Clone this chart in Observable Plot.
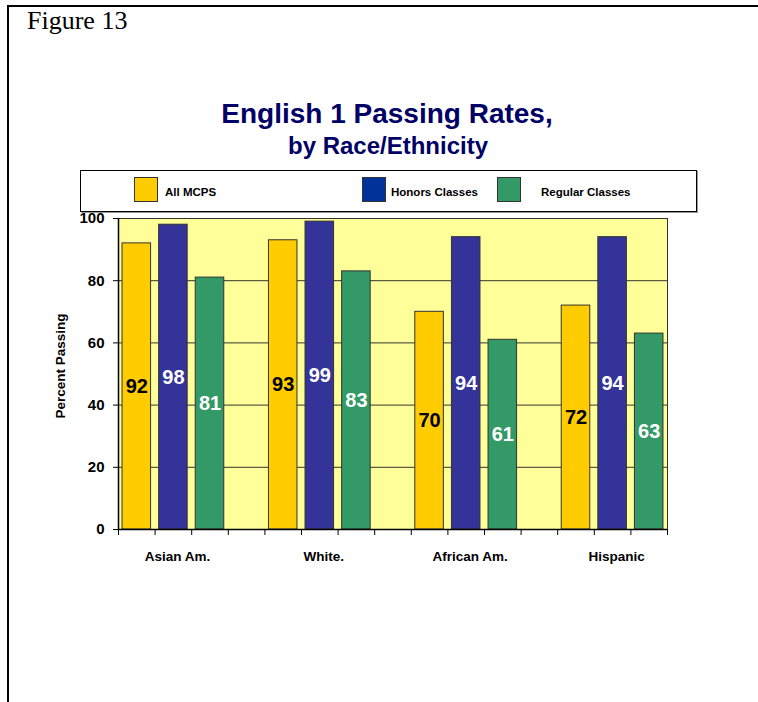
<!DOCTYPE html>
<html>
<head>
<meta charset="utf-8">
<script src="https://cdn.jsdelivr.net/npm/d3@7"></script>
<script src="https://cdn.jsdelivr.net/npm/@observablehq/plot@0.6"></script>
<style>
  html, body { margin: 0; padding: 0; background: #fff; }
  #page { position: relative; width: 758px; height: 702px; overflow: hidden; font-family: "Liberation Sans", Arial, sans-serif; }
  .abs { position: absolute; white-space: nowrap; }
  #figlabel { left: 27px; top: 8px; font-family: "Liberation Serif", "Times New Roman", serif; font-size: 26px; line-height: 26px; color: #000; }
  #title { left: 0; width: 774px; text-align: center; top: 100px; font-size: 28px; line-height: 28px; font-weight: bold; color: #000066; }
  #subtitle { left: 0; width: 776px; text-align: center; top: 134px; font-size: 24px; line-height: 24px; font-weight: bold; color: #000066; }
  #legend { left: 80px; top: 170px; width: 615px; height: 40px; border: 1px solid #000; box-shadow: 1px 1px 0 #999; }
  .sw { position: absolute; width: 22px; height: 23px; border: 1px solid #333; top: 6px; }
  .lt { position: absolute; top: 16px; font-size: 11.5px; line-height: 11.5px; font-weight: bold; color: #000; }
  #chart { left: 0; top: 200px; }
</style>
</head>
<body>
<div id="page">
  <div class="abs" style="left:8px; top:5px; width:750px; height:2px; background:#000;"></div>
  <div class="abs" style="left:7px; top:5px; width:2px; height:697px; background:#000;"></div>
  <div class="abs" id="figlabel">Figure 13</div>
  <div class="abs" id="title">English 1 Passing Rates,</div>
  <div class="abs" id="subtitle">by Race/Ethnicity</div>
  <div class="abs" id="legend"></div>
  <div class="abs" id="chart"></div>
</div>
<script>
const groups = ["Asian Am.", "White.", "African Am.", "Hispanic"];
const series = ["All MCPS", "Honors Classes", "Regular Classes"];
const allMCPS = [92, 93, 70, 72];
const honors = [98, 99, 94, 94];
const regular = [81, 83, 61, 63];
const yTicks = [0, 20, 40, 60, 80, 100];
const gridTicks = [20, 40, 60, 80];
const barColors = ["#FFCC00", "#333399", "#339966"];
const legendColors = ["#FFCC00", "#003399", "#339966"];
const labelColors = ["#000000", "#ffffff", "#ffffff"];

const seriesValues = [allMCPS, honors, regular];
const rows = groups.flatMap((g, i) =>
  series.map((s, j) => ({group: g, series: s, value: seriesValues[j][i], slot: 4 * i + j, labelColor: labelColors[j]}))
);
const slotCount = groups.length * 4 - 1;

// Legend
const legend = document.getElementById("legend");
const swLeft = [53, 281, 416];
const txLeft = [84, 310, 460];
series.forEach((s, j) => {
  const sw = document.createElement("div");
  sw.className = "sw";
  sw.style.left = swLeft[j] + "px";
  sw.style.background = legendColors[j];
  legend.appendChild(sw);
  const t = document.createElement("div");
  t.className = "lt";
  t.style.left = txLeft[j] + "px";
  t.textContent = s;
  legend.appendChild(t);
});

const chart = Plot.plot({
  width: 758,
  height: 380,
  marginLeft: 118,
  marginRight: 91,
  marginTop: 18,
  marginBottom: 51,
  style: {fontFamily: "'Liberation Sans', Arial, sans-serif", fontWeight: "bold", color: "#000", background: "transparent"},
  x: {domain: [0, slotCount]},
  y: {domain: [0, 100]},
  color: {domain: series, range: barColors},
  marks: [
    Plot.frame({fill: "#FFFF99"}),
    Plot.ruleY(gridTicks, {stroke: "#333", strokeWidth: 1}),
    Plot.rectY(rows, {x1: d => d.slot + 0.11, x2: d => d.slot + 0.89, y1: 0, y2: "value", fill: "series", stroke: "#333", strokeWidth: 1}),
    Plot.frame({stroke: "#333"}),
    Plot.ruleX([0], {stroke: "#000", strokeWidth: 1.5}),
    Plot.ruleY([0], {stroke: "#000", strokeWidth: 1.5}),
    Plot.axisY(yTicks, {tickSize: 5, tickPadding: 9, fontSize: 15, fontWeight: "bold", label: null}),
    Plot.axisX(d3.range(slotCount + 1), {tickSize: 6, tickFormat: () => "", label: null}),
    Plot.text(rows, {
      x: d => d.slot + 0.5, y: d => d.value / 2, text: d => String(d.value),
      fill: d => d.labelColor,
      fontSize: 20, fontWeight: "bold",
      fontFamily: "'Liberation Sans Narrow', 'Arial Narrow', 'Liberation Sans', sans-serif"
    }),
    Plot.text(groups, {x: (d, i) => 4 * i + 1.5, y: 0, dx: 4, dy: 27, text: d => d, fontSize: 13.5, fontWeight: "bold"}),
    Plot.text(["Percent Passing"], {frameAnchor: "left", textAnchor: "middle", dx: -58, dy: -8, rotate: -90, text: d => d, fontSize: 13.5, fontWeight: "bold"})
  ]
});
document.getElementById("chart").appendChild(chart);
</script>
</body>
</html>
